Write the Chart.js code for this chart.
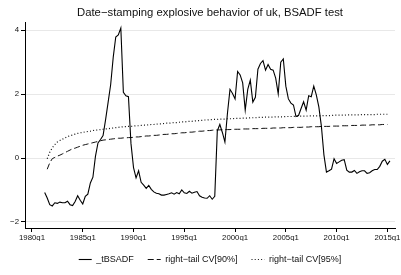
<!DOCTYPE html>
<html>
<head>
<meta charset="utf-8">
<script src="https://cdn.jsdelivr.net/npm/chart.js@4.4.1/dist/chart.umd.min.js"></script>
<style>
  html, body { margin: 0; padding: 0; background: #fff; }
</style>
</head>
<body>
<canvas id="chart" width="401" height="275"></canvas>
<script>
/* ── BSADF date-stamping, uk (quarterly) ── */

const FONT = "'Liberation Sans', Arial, sans-serif";

// x axis tick labels (Stata quarterly dates)
const xTickLabels = ['1980q1', '1985q1', '1990q1', '1995q1', '2000q1', '2005q1', '2010q1', '2015q1'];
const yTicks = [-2, 0, 2, 4];

// first quarter of each series
const bsadfStart = '1981q2';
const cvStart = '1981q3';

// _tBSADF, 1981q2 .. 2015q1
const bsadf = [
  -1.08, -1.25, -1.46, -1.50, -1.40, -1.42, -1.38, -1.40, -1.40, -1.35,
  -1.46, -1.49, -1.36, -1.18, -1.32, -1.44, -1.20, -1.13, -0.78, -0.60,
   0.05,  0.47,  0.58,  0.70,  1.20,  1.75,  2.30,  3.15,  3.79,  3.85,
   4.07,  2.06,  1.95,  1.92,  0.45, -0.30, -0.62, -0.40, -0.76, -0.85,
  -0.95, -0.86, -0.98, -1.06, -1.10, -1.12, -1.16, -1.16, -1.14, -1.12,
  -1.09, -1.13, -1.08, -1.12, -1.00, -1.09, -1.11, -1.04, -1.10, -1.07,
  -1.05, -1.18, -1.23, -1.25, -1.26, -1.18, -1.29, -1.20,  0.85,  1.05,
   0.80,  0.50,  1.40,  2.15,  2.02,  1.85,  2.71,  2.60,  2.35,  1.50,
   2.15,  2.44,  1.75,  1.90,  2.78,  2.96,  3.05,  2.75,  2.93,  2.78,
   2.75,  2.50,  2.01,  3.00,  3.10,  2.25,  1.85,  1.72,  1.66,  1.30,
   1.33,  1.55,  1.76,  1.50,  1.95,  1.92,  2.25,  1.98,  1.60,  1.00,
   0.10, -0.44, -0.40, -0.35, -0.02, -0.17, -0.12, -0.07, -0.05, -0.38,
  -0.44, -0.44, -0.39, -0.48, -0.43, -0.40, -0.40, -0.48, -0.46, -0.40,
  -0.36, -0.36, -0.26, -0.10, -0.04, -0.20, -0.09
];

// right-tail critical values, 1981q3 .. 2015q1
const cv90 = [
  -0.35, -0.15, -0.02,  0.02,  0.06,  0.09,  0.13,  0.17,  0.21,  0.25,
   0.29,  0.31,  0.34,  0.37,  0.40,  0.42,  0.44,  0.46,  0.48,  0.50,
   0.52,  0.54,  0.56,  0.57,  0.58,  0.59,  0.60,  0.61,  0.62,  0.62,
   0.63,  0.63,  0.64,  0.64,  0.65,  0.66,  0.66,  0.67,  0.68,  0.69,
   0.69,  0.70,  0.71,  0.71,  0.72,  0.73,  0.74,  0.74,  0.75,  0.76,
   0.76,  0.77,  0.78,  0.79,  0.79,  0.80,  0.81,  0.81,  0.82,  0.83,
   0.84,  0.84,  0.85,  0.86,  0.86,  0.87,  0.88,  0.88,  0.88,  0.89,
   0.89,  0.89,  0.89,  0.90,  0.90,  0.90,  0.90,  0.91,  0.91,  0.91,
   0.91,  0.92,  0.92,  0.92,  0.92,  0.93,  0.93,  0.93,  0.93,  0.94,
   0.94,  0.94,  0.94,  0.95,  0.95,  0.95,  0.95,  0.96,  0.96,  0.96,
   0.96,  0.97,  0.97,  0.97,  0.98,  0.98,  0.98,  0.98,  0.99,  0.99,
   0.99,  0.99,  1.00,  1.00,  1.00,  1.00,  1.01,  1.01,  1.01,  1.01,
   1.02,  1.02,  1.02,  1.02,  1.03,  1.03,  1.03,  1.03,  1.04,  1.04,
   1.04,  1.04,  1.05,  1.05,  1.05
];

const cv95 = [
  -0.02,  0.18,  0.32,  0.42,  0.50,  0.55,  0.59,  0.63,  0.67,  0.70,
   0.72,  0.75,  0.77,  0.79,  0.80,  0.82,  0.83,  0.84,  0.86,  0.87,
   0.88,  0.89,  0.90,  0.91,  0.92,  0.93,  0.94,  0.95,  0.96,  0.97,
   0.98,  0.98,  0.99,  0.99,  1.00,  1.01,  1.01,  1.02,  1.03,  1.03,
   1.04,  1.05,  1.05,  1.06,  1.07,  1.07,  1.08,  1.09,  1.09,  1.10,
   1.11,  1.11,  1.12,  1.13,  1.13,  1.14,  1.15,  1.15,  1.16,  1.17,
   1.17,  1.18,  1.19,  1.19,  1.20,  1.20,  1.21,  1.21,  1.22,  1.22,
   1.22,  1.23,  1.23,  1.23,  1.24,  1.24,  1.24,  1.25,  1.25,  1.25,
   1.26,  1.26,  1.26,  1.27,  1.27,  1.27,  1.28,  1.28,  1.28,  1.28,
   1.29,  1.29,  1.29,  1.29,  1.30,  1.30,  1.30,  1.30,  1.31,  1.31,
   1.31,  1.31,  1.31,  1.32,  1.32,  1.32,  1.32,  1.32,  1.33,  1.33,
   1.33,  1.33,  1.33,  1.34,  1.34,  1.34,  1.34,  1.34,  1.35,  1.35,
   1.35,  1.35,  1.35,  1.35,  1.36,  1.36,  1.36,  1.36,  1.36,  1.36,
   1.37,  1.37,  1.37,  1.37,  1.37
];

/* ── quarter helpers ── */
function qIndex(label) {
  const [y, q] = label.split('q').map(Number);
  return (y - 1980) * 4 + (q - 1);
}
function toPoints(arr, start) {
  const s = qIndex(start);
  return arr.map((v, i) => ({ x: s + i, y: v }));
}
function qLabel(v) {
  const hit = xTickLabels.find(l => qIndex(l) === v);
  return hit || '';
}

const tickFont = { family: FONT, size: 7.8 };

// point-style legend items lose the dash pattern, so put it back
function legendLabels(chart) {
  return Chart.defaults.plugins.legend.labels.generateLabels(chart).map((it, i) => {
    const ds = chart.data.datasets[i];
    return { ...it, lineDash: ds.borderDash || [], lineWidth: ds.borderWidth, strokeStyle: ds.borderColor };
  });
}

new Chart(document.getElementById('chart'), {
  type: 'line',
  data: {
    datasets: [
      { label: '_tBSADF', data: toPoints(bsadf, bsadfStart),
        borderColor: '#000', borderWidth: 1.1 },
      { label: 'right\u2212tail CV[90%]', data: toPoints(cv90, cvStart),
        borderColor: '#111', borderWidth: 1, borderDash: [6, 3] },
      { label: 'right\u2212tail CV[95%]', data: toPoints(cv95, cvStart),
        borderColor: '#111', borderWidth: 1.2, borderDash: [1, 2.2] }
    ]
  },
  options: {
    responsive: false, animation: false,
    layout: { padding: { left: 0, right: 6, top: 0, bottom: 1 } },
    elements: { point: { radius: 0 }, line: { tension: 0 } },
    plugins: {
      title: {
        display: true, fullSize: false,
        text: 'Date\u2212stamping explosive behavior of uk, BSADF test',
        color: '#111', font: { family: FONT, size: 11.3, weight: 'normal' },
        padding: { top: 6.5, bottom: 2.5 }
      },
      legend: {
        position: 'bottom', fullSize: false,
        labels: {
          usePointStyle: true, pointStyle: 'line', pointStyleWidth: 13,
          padding: 14, color: '#111', font: { family: FONT, size: 9 },
          generateLabels: legendLabels
        }
      },
      tooltip: { enabled: false }
    },
    scales: {
      x: {
        type: 'linear', min: -2.75, max: 143,
        afterBuildTicks: s => { s.ticks = xTickLabels.map(l => ({ value: qIndex(l) })); },
        afterFit: s => { s.height = 13; s.paddingLeft = 0; s.paddingRight = 0; },
        ticks: { autoSkip: false, maxRotation: 0, padding: 1, color: '#111', font: tickFont,
                 callback: v => qLabel(v) },
        grid: { drawOnChartArea: false, tickLength: 4, tickColor: '#000' },
        border: { color: '#000', width: 1 }
      },
      y: {
        type: 'linear', min: -2.19, max: 4.24,
        afterBuildTicks: s => { s.ticks = yTicks.map(v => ({ value: v })); },
        afterFit: s => { s.width = 25; },
        ticks: { padding: 2, color: '#111', font: tickFont,
                 callback: v => String(v).replace('-', '\u2212') },
        grid: { color: '#e8e8e8', tickLength: 4, tickColor: '#000' },
        border: { color: '#000', width: 1 }
      }
    }
  }
});
</script>
</body>
</html>
